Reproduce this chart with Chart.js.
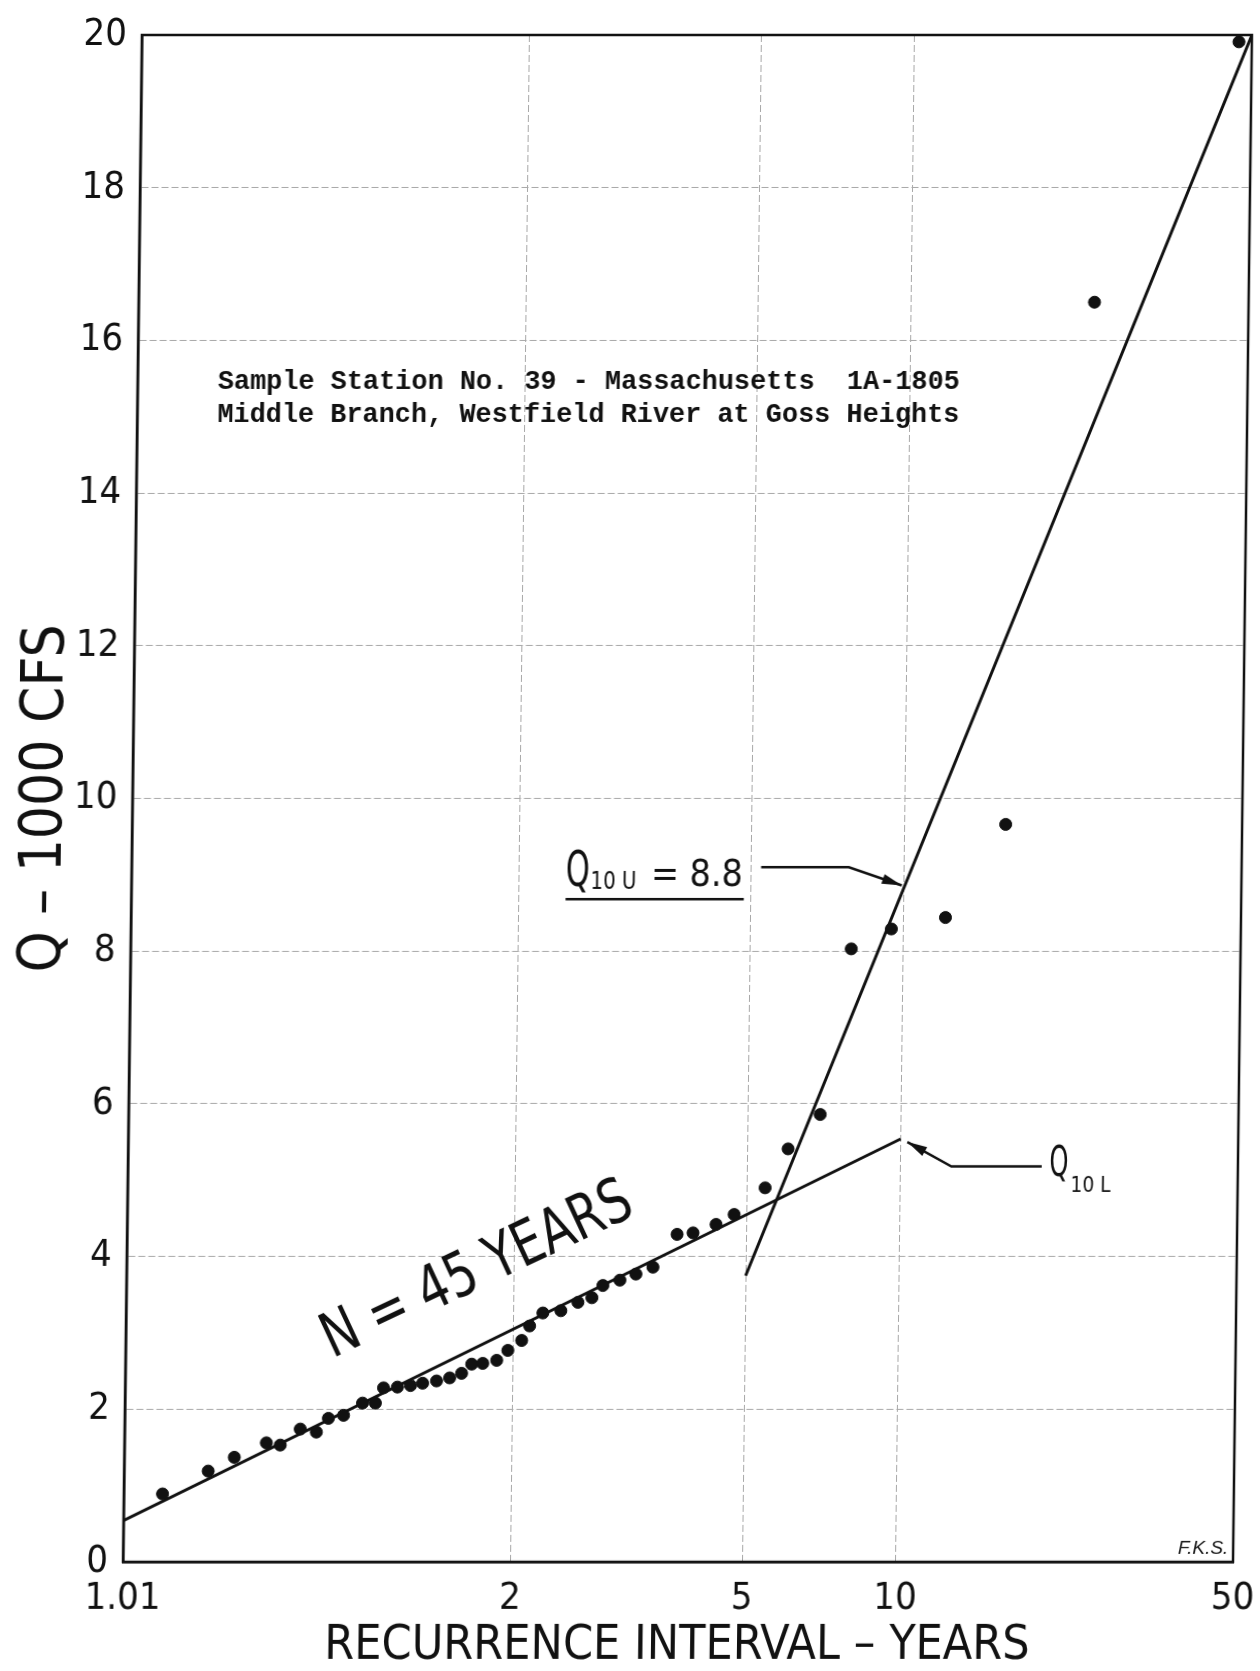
<!DOCTYPE html>
<html>
<head>
<meta charset="utf-8">
<script src="https://cdn.jsdelivr.net/npm/chart.js@4.4.0/dist/chart.umd.min.js"></script>
<style>
  html, body { margin: 0; padding: 0; background: #fff; }
  /* the scanned sheet leans a little to the right */
  #gumbelChart { display: block; transform: skewX(-0.71deg); transform-origin: 0 1562px; }
</style>
</head>
<body>
<canvas id="gumbelChart" width="1260" height="1671"></canvas>
<script>
// RECURRENCE INTERVAL AXIS (extreme value probability paper)
const tickYears = [1.01, 2, 5, 10, 50];
const tickLabels = ['1.01', '2', '5', '10', '50'];
const qTicks = [0, 2, 4, 6, 8, 10, 12, 14, 16, 18, 20];

// annual peaks, N = 45 : position on the paper (reduced variate) and Q in 1000 cfs
const reducedVariate = [
  -1.340, -1.118, -0.991, -0.835, -0.767, -0.670, -0.591, -0.533, -0.459, -0.367,
  -0.304, -0.265, -0.197, -0.133, -0.074, -0.006, 0.058, 0.116, 0.165, 0.219,
  0.287, 0.341, 0.408, 0.446, 0.510, 0.598, 0.681, 0.749, 0.802, 0.885,
  0.963, 1.046, 1.162, 1.240, 1.352, 1.440, 1.590, 1.700, 1.855, 1.997,
  2.192, 2.456, 2.745, 3.148, 3.839
];
const peakQ = [
  0.89, 1.19, 1.37, 1.56, 1.53, 1.74, 1.70, 1.88, 1.92, 2.08,
  2.08, 2.28, 2.29, 2.31, 2.34, 2.37, 2.41, 2.47, 2.59, 2.60,
  2.64, 2.77, 2.90, 3.09, 3.26, 3.29, 3.40, 3.46, 3.62, 3.69,
  3.77, 3.86, 4.29, 4.31, 4.42, 4.55, 4.90, 5.41, 5.86, 8.03,
  8.29, 8.44, 9.66, 16.50, 19.91
];

// fitted straight lines
const lowerYears = [1.01, 10];
const lowerQ = [0.54, 5.54];
const upperYears = [5, 50];
const upperQ = [3.75, 20];

const q10Upper = 8.8;
const caption = [
  'Sample Station No. 39 - Massachusetts  1A-1805',
  'Middle Branch, Westfield River at Goss Heights'
];

function gumbel(T) {
  return -Math.log(-Math.log(1 - 1 / T));
}

const hand = '"Liberation Sans Narrow", "DejaVu Sans Condensed", sans-serif';

function arrowHead(ctx, x0, y0, x1, y1) {
  const a = Math.atan2(y1 - y0, x1 - x0);
  const len = 20, w = 5;
  ctx.beginPath();
  ctx.moveTo(x1, y1);
  ctx.lineTo(x1 - len * Math.cos(a) + w * Math.sin(a), y1 - len * Math.sin(a) - w * Math.cos(a));
  ctx.lineTo(x1 - len * Math.cos(a) - w * Math.sin(a), y1 - len * Math.sin(a) + w * Math.cos(a));
  ctx.closePath();
  ctx.fill();
}

const paperNotes = {
  id: 'paperNotes',
  afterDraw(chart) {
    const { ctx, chartArea: a, scales: { x, y } } = chart;
    const px = (u, q) => [x.getPixelForValue(u), y.getPixelForValue(q)];
    ctx.save();
    ctx.strokeStyle = '#111';
    ctx.fillStyle = '#111';

    // frame
    ctx.lineWidth = 2.5;
    ctx.strokeRect(a.left, a.top, a.right - a.left, a.bottom - a.top);

    // station caption
    ctx.font = 'bold 27px "Liberation Mono", monospace';
    ctx.textAlign = 'left';
    ctx.textBaseline = 'middle';
    let p = px(-1.137, 15.45);
    ctx.fillText(caption[0], p[0], p[1], 742);
    p = px(-1.137, 15.02);
    ctx.fillText(caption[1], p[0], p[1], 742);

    // Q10U = 8.8
    ctx.textBaseline = 'alphabetic';
    ctx.font = '50px ' + hand;
    p = px(0.596, 8.85);
    ctx.fillText('Q', p[0], p[1], 24);
    ctx.font = '24px ' + hand;
    p = px(0.717, 8.81);
    ctx.fillText('10 U', p[0], p[1], 46);
    ctx.font = '38px ' + hand;
    p = px(1.012, 8.85);
    ctx.fillText('= ' + q10Upper.toFixed(1), p[0], p[1], 92);
    ctx.lineWidth = 2.5;
    let s = px(0.596, 8.68), e = px(1.468, 8.68);
    ctx.beginPath(); ctx.moveTo(s[0], s[1]); ctx.lineTo(e[0], e[1]); ctx.stroke();

    let a0 = px(1.551, 9.10), a1 = px(1.98, 9.10), tip = px(gumbel(10) - 0.01, q10Upper + 0.06);
    ctx.beginPath(); ctx.moveTo(a0[0], a0[1]); ctx.lineTo(a1[0], a1[1]); ctx.lineTo(tip[0], tip[1]); ctx.stroke();
    arrowHead(ctx, a1[0], a1[1], tip[0], tip[1]);

    // Q10L
    a0 = px(2.942, 5.18); a1 = px(2.50, 5.18); tip = px(2.283, 5.50);
    ctx.beginPath(); ctx.moveTo(a0[0], a0[1]); ctx.lineTo(a1[0], a1[1]); ctx.lineTo(tip[0], tip[1]); ctx.stroke();
    arrowHead(ctx, a1[0], a1[1], tip[0], tip[1]);
    ctx.font = '42px ' + hand;
    p = px(2.98, 5.06);
    ctx.fillText('Q', p[0], p[1], 19);
    ctx.font = '22px ' + hand;
    p = px(3.084, 4.84);
    ctx.fillText('10 L', p[0], p[1], 40);

    // N = 45 YEARS along the lower line
    p = px(0.189, 3.80);
    ctx.translate(p[0], p[1]);
    ctx.rotate(-25.5 * Math.PI / 180);
    ctx.font = '62px ' + hand;
    ctx.textAlign = 'center';
    ctx.textBaseline = 'middle';
    ctx.fillText('N = ' + reducedVariate.length + ' YEARS', 0, 0, 335);
    ctx.setTransform(1, 0, 0, 1, 0, 0);

    // initials
    ctx.font = 'italic 19px "Liberation Sans", sans-serif';
    ctx.textAlign = 'right';
    ctx.textBaseline = 'middle';
    p = px(3.878, 0.17);
    ctx.fillText('F.K.S.', p[0], p[1]);
    ctx.restore();
  }
};

const ctx = document.getElementById('gumbelChart').getContext('2d');
const gumbelChart = new Chart(ctx, {
  type: 'scatter',
  data: {
    datasets: [
      {
        label: 'Annual peaks',
        data: reducedVariate.map((u, i) => ({ x: u, y: peakQ[i] })),
        backgroundColor: '#111',
        borderColor: '#111',
        pointRadius: 6,
        pointHoverRadius: 6
      },
      {
        label: 'Upper line',
        data: upperYears.map((t, i) => ({ x: gumbel(t), y: upperQ[i] })),
        showLine: true,
        borderColor: '#111',
        borderWidth: 3,
        pointRadius: 0
      },
      {
        label: 'Lower line',
        data: lowerYears.map((t, i) => ({ x: gumbel(t), y: lowerQ[i] })),
        showLine: true,
        borderColor: '#111',
        borderWidth: 3,
        pointRadius: 0
      }
    ]
  },
  options: {
    responsive: false,
    animation: false,
    layout: { padding: { top: 35, right: 27, left: 0, bottom: 0 } },
    plugins: {
      legend: { display: false },
      tooltip: { enabled: false }
    },
    scales: {
      x: {
        type: 'linear',
        min: gumbel(tickYears[0]),
        max: gumbel(tickYears[tickYears.length - 1]),
        afterBuildTicks: axis => { axis.ticks = tickYears.map(t => ({ value: gumbel(t) })); },
        afterFit: axis => { axis.height = 109; },
        ticks: {
          autoSkip: false,
          maxRotation: 0,
          padding: 0,
          color: '#111',
          font: { family: hand, size: 38, lineHeight: 1.95 },
          callback: (v, i) => tickLabels[i]
        },
        grid: { color: '#a8a8a8', lineWidth: 1, drawTicks: false },
        border: { color: '#111', width: 2.5, dash: [7, 3] },
        title: {
          display: true,
          text: 'RECURRENCE INTERVAL – YEARS',
          color: '#111',
          font: { family: hand, size: 48, lineHeight: 1 },
          padding: { top: 0, bottom: 0 }
        }
      },
      y: {
        min: qTicks[0],
        max: qTicks[qTicks.length - 1],
        afterBuildTicks: axis => { axis.ticks = qTicks.map(v => ({ value: v })); },
        afterFit: axis => { axis.width = 123; },
        ticks: {
          padding: 15,
          color: '#111',
          font: { family: hand, size: 38, lineHeight: 1 }
        },
        grid: { color: '#a8a8a8', lineWidth: 1, drawTicks: false },
        border: { color: '#111', width: 2.5, dash: [7, 3] },
        title: {
          display: true,
          text: 'Q – 1000 CFS',
          color: '#111',
          font: { family: hand, size: 58, lineHeight: 1 },
          padding: { top: 8, bottom: 0 }
        }
      }
    }
  },
  plugins: [paperNotes]
});
</script>
</body>
</html>
